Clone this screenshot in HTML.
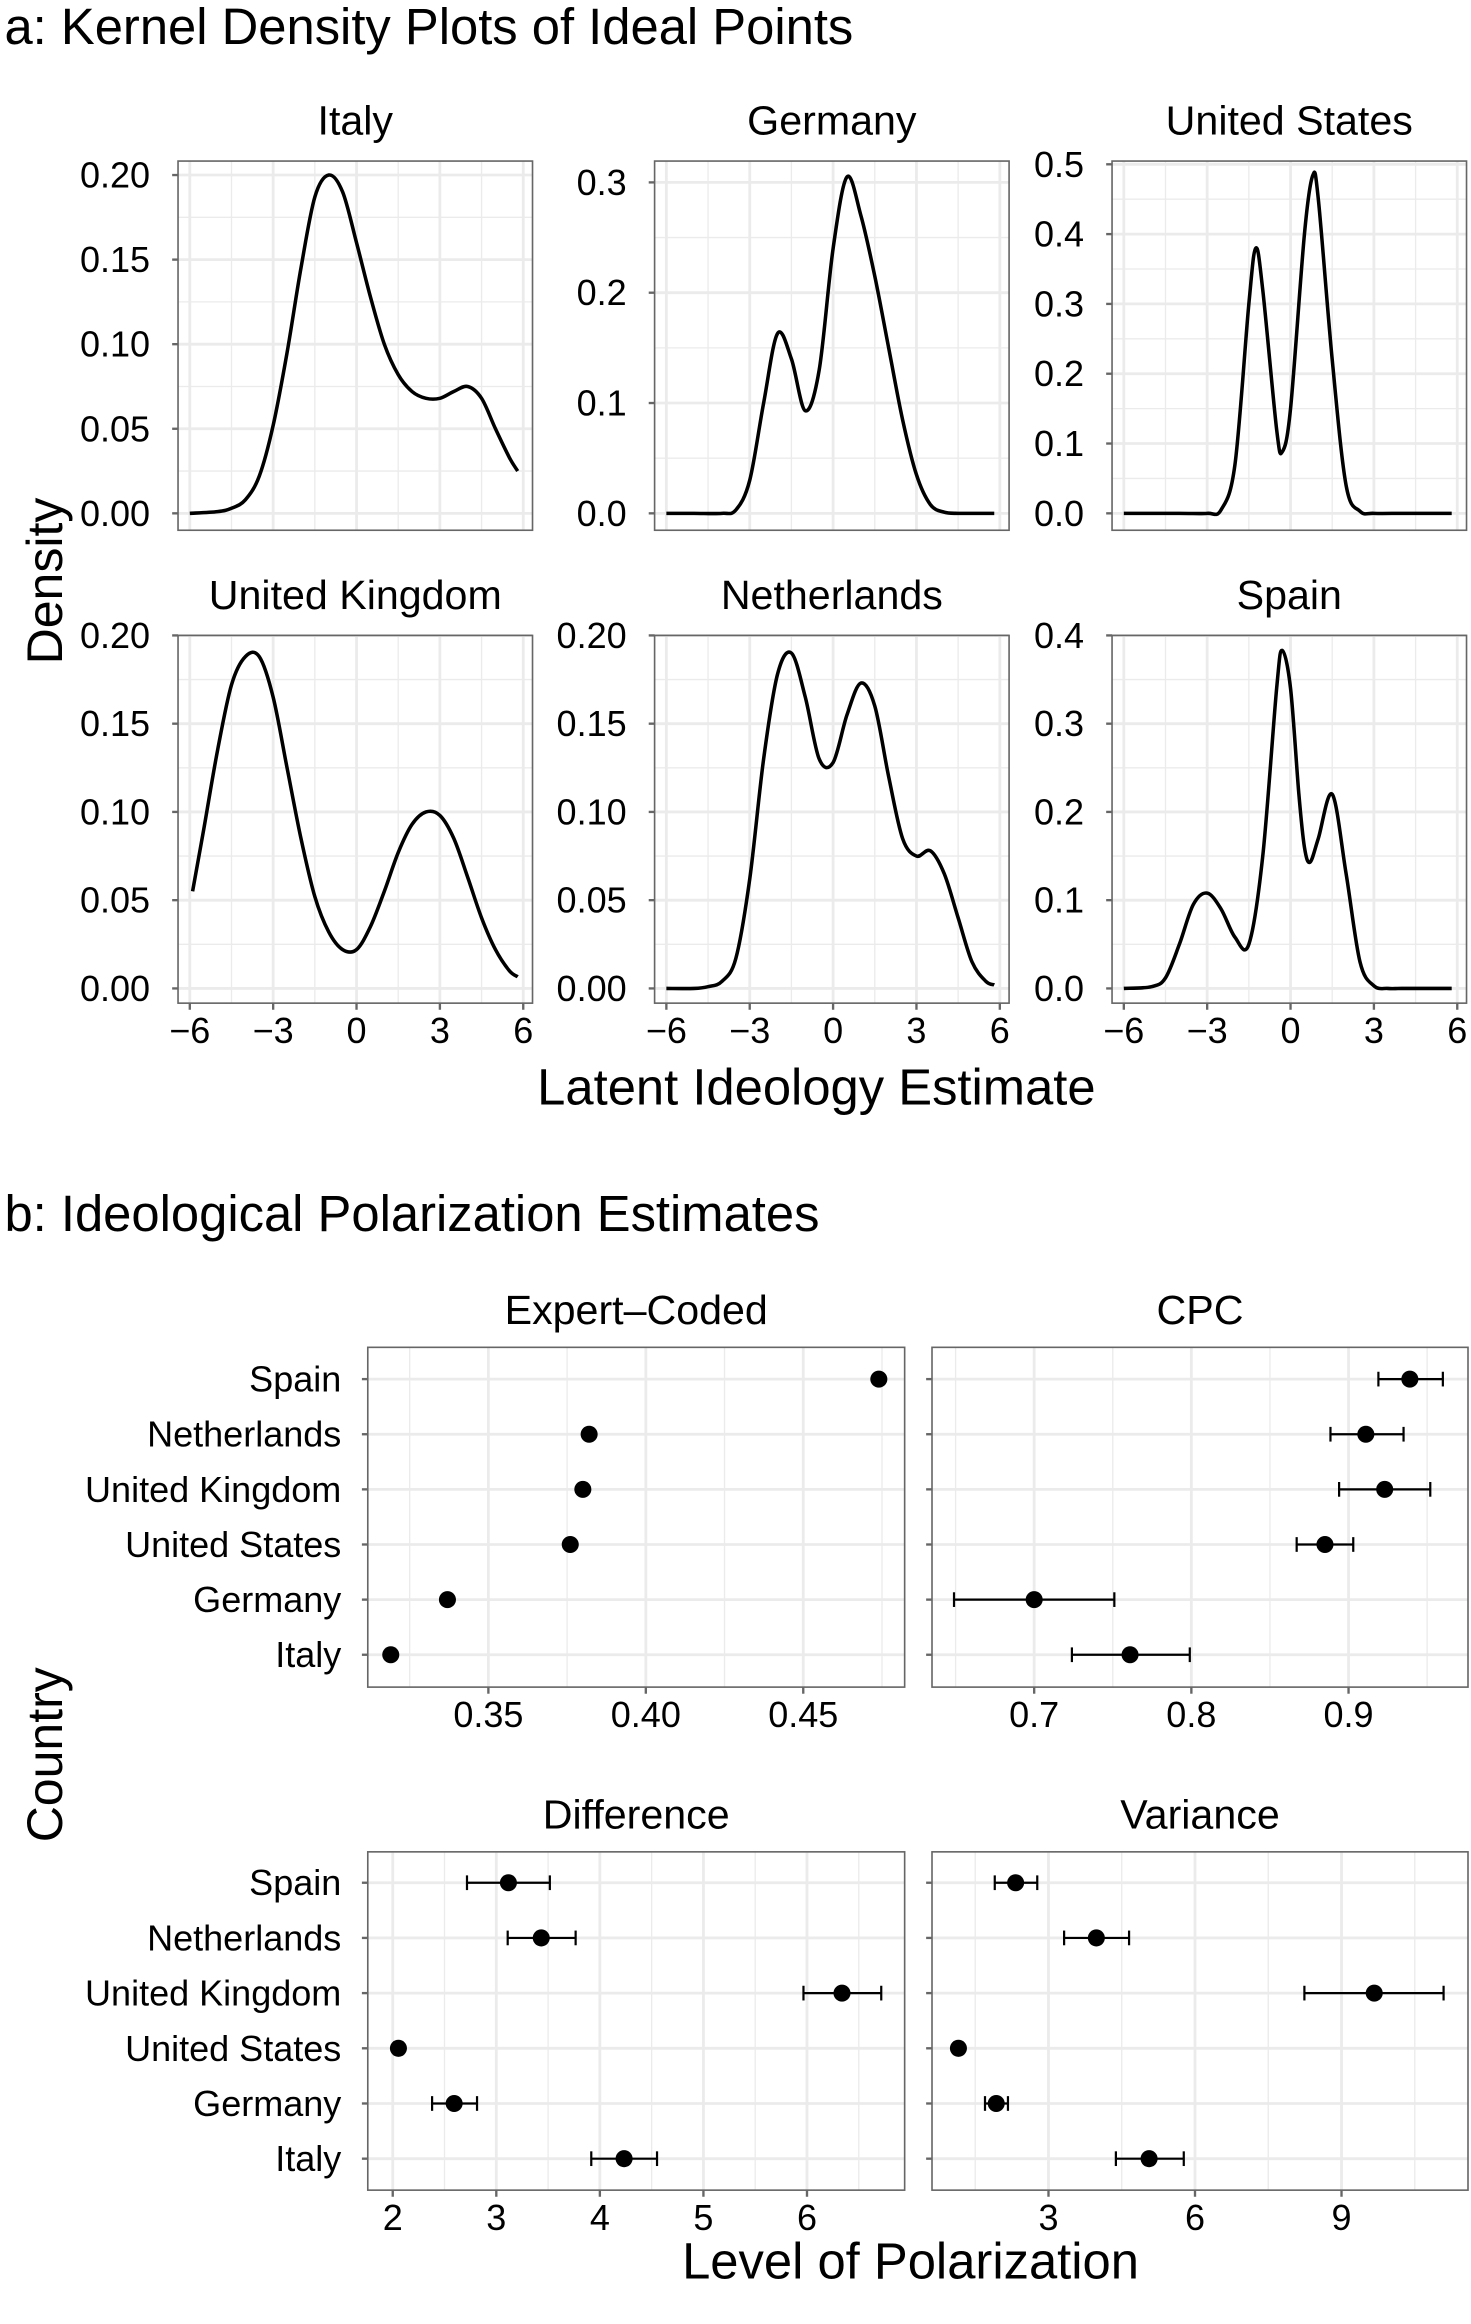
<!DOCTYPE html>
<html><head><meta charset="utf-8"><style>
html,body{margin:0;padding:0;background:#fff}
svg{display:block}
text{font-family:"Liberation Sans",sans-serif;fill:#000}
</style></head><body>
<svg id="fig" width="1471" height="2324" viewBox="0 0 1000 1580" xmlns="http://www.w3.org/2000/svg">
<text x="3" y="30" font-size="34.5">a: Kernel Density Plots of Ideal Points</text>
<text x="3" y="837" font-size="34.5">b: Ideological Polarization Estimates</text>
<text x="0" y="0" font-size="34" text-anchor="middle" transform="translate(42,395) rotate(-90)">Density</text>
<text x="555" y="751" font-size="34.5" text-anchor="middle">Latent Ideology Estimate</text>
<text x="0" y="0" font-size="34" text-anchor="middle" transform="translate(42,1193) rotate(-90)">Country</text>
<text x="619" y="1549" font-size="34.5" text-anchor="middle">Level of Polarization</text>
</svg>
<script>
// ---- density data ----
const itX=[-6,-5,-4.5,-4,-3.5,-3,-2.5,-2,-1.5,-1,-0.5,0,0.5,1,1.5,2,2.5,3,3.5,4,4.5,5,5.5,5.8];
const itY=[0,0.001,0.003,0.008,0.022,0.052,0.095,0.145,0.187,0.2,0.19,0.16,0.128,0.1,0.082,0.072,0.068,0.068,0.072,0.075,0.068,0.05,0.033,0.025];
const deX=[-6,-5,-4,-3.5,-3,-2.5,-2,-1.5,-1,-0.5,0,0.5,1,1.5,2,2.5,3,3.5,4,4.5,5,5.5,5.8];
const deY=[0,0,0,0.003,0.03,0.1,0.163,0.14,0.093,0.13,0.24,0.305,0.27,0.215,0.15,0.085,0.035,0.008,0.001,0,0,0,0];
const usX=[-6,-4,-3,-2.5,-2,-1.5,-1.25,-1,-0.5,-0.3,0,0.5,0.8,1,1.5,2,2.5,3,4,5,5.8];
const usY=[0,0,0,0.005,0.07,0.3,0.38,0.32,0.12,0.088,0.15,0.4,0.484,0.45,0.22,0.04,0.003,0,0,0,0];
const ukX=[-5.9,-5.5,-5,-4.5,-4,-3.5,-3,-2.5,-2,-1.5,-1,-0.5,0,0.5,1,1.5,2,2.5,3,3.5,4,4.5,5,5.5,5.8];
const ukY=[0.055,0.09,0.135,0.172,0.188,0.188,0.165,0.125,0.085,0.052,0.032,0.022,0.022,0.035,0.055,0.077,0.093,0.1,0.098,0.085,0.063,0.04,0.022,0.01,0.0066];
const nlX=[-6,-5,-4.5,-4,-3.5,-3,-2.5,-2,-1.5,-1,-0.5,0,0.5,1,1.5,2,2.5,3,3.5,4,4.5,5,5.5,5.8];
const nlY=[0,0,0.001,0.004,0.017,0.062,0.13,0.178,0.19,0.165,0.13,0.128,0.155,0.173,0.16,0.12,0.085,0.075,0.078,0.065,0.04,0.015,0.004,0.002];
const esX=[-6,-5,-4.5,-4,-3.5,-3,-2.5,-2,-1.5,-1,-0.5,-0.3,0,0.3,0.5,0.7,1,1.5,2,2.5,3,3.5,4,5,5.8];
const esY=[0,0.002,0.012,0.05,0.095,0.108,0.09,0.058,0.05,0.15,0.34,0.383,0.34,0.22,0.16,0.143,0.17,0.22,0.13,0.03,0.003,0,0,0,0];
const densNames=["Italy","Germany","United States","United Kingdom","Netherlands","Spain"];
const densXs=[itX,deX,usX,ukX,nlX,esX];
const densYs=[itY,deY,usY,ukY,nlY,esY];
const densYTicks=[[0,0.05,0.1,0.15,0.2],[0,0.1,0.2,0.3],[0,0.1,0.2,0.3,0.4,0.5],[0,0.05,0.1,0.15,0.2],[0,0.05,0.1,0.15,0.2],[0,0.1,0.2,0.3,0.4]];
const densYLabels=[["0.00","0.05","0.10","0.15","0.20"],["0.0","0.1","0.2","0.3"],["0.0","0.1","0.2","0.3","0.4","0.5"],["0.00","0.05","0.10","0.15","0.20"],["0.00","0.05","0.10","0.15","0.20"],["0.0","0.1","0.2","0.3","0.4"]];
const densXTicks=[-6,-3,0,3,6];
const densXLabels=["\u22126","\u22123","0","3","6"];

// ---- polarization data ----
const countries=["Spain","Netherlands","United Kingdom","United States","Germany","Italy"];
const expertVals=[0.474,0.382,0.380,0.376,0.337,0.319];
const cpcVals=[0.939,0.911,0.923,0.885,0.700,0.761];
const cpcLo=[0.919,0.8885,0.894,0.867,0.649,0.724];
const cpcHi=[0.960,0.935,0.952,0.903,0.751,0.799];
const diffVals=[3.117,3.434,6.338,2.055,2.593,4.234];
const diffLo=[2.717,3.11,5.966,2.02,2.38,3.917];
const diffHi=[3.517,3.766,6.717,2.09,2.814,4.552];
const varVals=[2.327,3.98,9.67,1.156,1.93,5.06];
const varLo=[1.90,3.32,8.24,1.10,1.70,4.38];
const varHi=[2.77,4.65,11.09,1.21,2.17,5.77];
const expertTicks=[0.35,0.40,0.45];
const expertLabels=["0.35","0.40","0.45"];
const cpcTicks=[0.7,0.8,0.9];
const cpcLabels=["0.7","0.8","0.9"];
const diffTicks=[2,3,4,5,6];
const diffLabels=["2","3","4","5","6"];
const varTicks=[3,6,9];
const varLabels=["3","6","9"];

const NS="http://www.w3.org/2000/svg";
const svg=document.getElementById('fig');
function mk(tag,attrs,parent){const e=document.createElementNS(NS,tag);for(const k in attrs)e.setAttribute(k,attrs[k]);(parent||svg).appendChild(e);return e;}
function lin(d0,d1,r0,r1){return v=>r0+(v-d0)*(r1-r0)/(d1-d0);}
const GRID="#ebebeb",BORDER="#666",TICK="#666";
const TFS=24.5;

function crPath(pts){
  let d="M"+pts[0][0].toFixed(2)+","+pts[0][1].toFixed(2);
  for(let i=0;i<pts.length-1;i++){
    const p0=pts[Math.max(0,i-1)],p1=pts[i],p2=pts[i+1],p3=pts[Math.min(pts.length-1,i+2)];
    const c1=[p1[0]+(p2[0]-p0[0])/6,p1[1]+(p2[1]-p0[1])/6];
    const c2=[p2[0]-(p3[0]-p1[0])/6,p2[1]-(p3[1]-p1[1])/6];
    d+="C"+c1.map(v=>v.toFixed(2)).join(",")+" "+c2.map(v=>v.toFixed(2)).join(",")+" "+p2[0].toFixed(2)+","+p2[1].toFixed(2);
  }
  return d;
}

// density panels
const colL=[121,445,756], colW=241;
const rowTop=[109.5,432], rowBot=[360.5,682];
const rowZero=[349,672];
const topPix=[119,124,111.7,432,432,432];
for(let p=0;p<6;p++){
  const r=Math.floor(p/3),c=p%3;
  const L=colL[c],R=L+colW,T=rowTop[r],B=rowBot[r];
  const g=mk('g',{});
  
  
  const xs=lin(-6,6,L+8,L+colW-6.3);
  const yt=densYTicks[p];
  const ys=lin(0,yt[yt.length-1],rowZero[r],topPix[p]);
  const step=yt[1]-yt[0];
  for(let i=0;i<yt.length;i++){const v=yt[i]+step/2;const y=ys(v);if(y>T&&y<B)mk('line',{x1:L,x2:R,y1:y,y2:y,stroke:GRID,'stroke-width':0.9},g);}
  for(let v=-4.5;v<=6;v+=3){const x=xs(v);if(x<R)mk('line',{x1:x,x2:x,y1:T,y2:B,stroke:GRID,'stroke-width':0.9},g);}
  for(const v of yt){const y=ys(v);mk('line',{x1:L,x2:R,y1:y,y2:y,stroke:GRID,'stroke-width':1.9},g);}
  for(const v of densXTicks){const x=xs(v);mk('line',{x1:x,x2:x,y1:T,y2:B,stroke:GRID,'stroke-width':1.9},g);}
  const pts=densXs[p].map((x,i)=>[xs(x),ys(densYs[p][i])]);
  const path=mk('path',{d:crPath(pts),fill:'none',stroke:'#000','stroke-width':2.4,'stroke-linejoin':'round'},g);
  
  
  mk('rect',{x:L,y:T,width:colW,height:B-T,fill:'none',stroke:BORDER,'stroke-width':1.1},g);
  yt.forEach((v,i)=>{const y=ys(v);mk('line',{x1:L-4,x2:L,y1:y,y2:y,stroke:TICK,'stroke-width':1.6},g);
    const t=mk('text',{x:L-19,y:y+8.5,'font-size':TFS,'text-anchor':'end'},g);t.textContent=densYLabels[p][i];
    
    });
  if(r===1){densXTicks.forEach((v,i)=>{const x=xs(v);mk('line',{x1:x,x2:x,y1:B,y2:B+4.5,stroke:TICK,'stroke-width':1.6},g);
    const t=mk('text',{x:x,y:B+27,'font-size':TFS,'text-anchor':'middle'},g);t.textContent=densXLabels[i];
    
    });}
  const st=mk('text',{x:L+colW/2,y:T-18,'font-size':28,'text-anchor':'middle'},g);st.textContent=densNames[p];
  
  
}

// dot panels
const dotPanels=[
 {name:"Expert\u2013Coded",L:250,R:615,T:916,B:1147,y0:937.6,y5:1125,d0:0.3117,d1:0.4822,vals:expertVals,lo:null,hi:null,ticks:expertTicks,labels:expertLabels,labelsY:true},
 {name:"CPC",L:633.6,R:998,T:916,B:1147,y0:937.6,y5:1125,d0:0.635,d1:0.976,vals:cpcVals,lo:cpcLo,hi:cpcHi,ticks:cpcTicks,labels:cpcLabels,labelsY:false},
 {name:"Difference",L:250,R:615,T:1259,B:1489,y0:1280,y5:1467.6,d0:1.759,d1:6.943,vals:diffVals,lo:diffLo,hi:diffHi,ticks:diffTicks,labels:diffLabels,labelsY:true},
 {name:"Variance",L:633.6,R:998,T:1259,B:1489,y0:1280,y5:1467.6,d0:0.615,d1:11.59,vals:varVals,lo:varLo,hi:varHi,ticks:varTicks,labels:varLabels,labelsY:false}
];
dotPanels.forEach(P=>{
  const g=mk('g',{});
  
  
  const xs=lin(P.d0,P.d1,P.L,P.R);
  const ys=i=>P.y0+i*(P.y5-P.y0)/5;
  const st=P.ticks[1]-P.ticks[0];
  for(let v=P.ticks[0]-st/2;v<P.d1;v+=st){const x=xs(v);if(x>P.L&&x<P.R)mk('line',{x1:x,x2:x,y1:P.T,y2:P.B,stroke:GRID,'stroke-width':0.9},g);}
  countries.forEach((c,i)=>{const y=ys(i);mk('line',{x1:P.L,x2:P.R,y1:y,y2:y,stroke:GRID,'stroke-width':1.9},g);});
  P.ticks.forEach(v=>{const x=xs(v);mk('line',{x1:x,x2:x,y1:P.T,y2:P.B,stroke:GRID,'stroke-width':1.9},g);});
  countries.forEach((c,i)=>{
    const y=ys(i);
    if(P.lo){
      const eb=mk('g',{},g);
      
      
      const a=xs(P.lo[i]),b=xs(P.hi[i]);
      mk('line',{x1:a,x2:b,y1:y,y2:y,stroke:'#000','stroke-width':1.5},eb);
      mk('line',{x1:a,x2:a,y1:y-5,y2:y+5,stroke:'#000','stroke-width':1.5},eb);
      mk('line',{x1:b,x2:b,y1:y-5,y2:y+5,stroke:'#000','stroke-width':1.5},eb);
    }
    const pt=mk('circle',{cx:xs(P.vals[i]),cy:y,r:5.8,fill:'#000'},g);
    
    
  });
  mk('rect',{x:P.L,y:P.T,width:P.R-P.L,height:P.B-P.T,fill:'none',stroke:BORDER,'stroke-width':1.1},g);
  countries.forEach((c,i)=>{const y=ys(i);mk('line',{x1:P.L-4,x2:P.L,y1:y,y2:y,stroke:TICK,'stroke-width':1.6},g);
    if(P.labelsY){const t=mk('text',{x:P.L-18,y:y+8.5,'font-size':TFS,'text-anchor':'end'},g);t.textContent=c;
      
      }});
  P.ticks.forEach((v,i)=>{const x=xs(v);mk('line',{x1:x,x2:x,y1:P.B,y2:P.B+4.5,stroke:TICK,'stroke-width':1.6},g);
    const t=mk('text',{x:x,y:P.B+27,'font-size':TFS,'text-anchor':'middle'},g);t.textContent=P.labels[i];
    
    });
  const s=mk('text',{x:(P.L+P.R)/2,y:P.T-16,'font-size':28,'text-anchor':'middle'},g);s.textContent=P.name;
  
  
});
</script>
</body></html>
